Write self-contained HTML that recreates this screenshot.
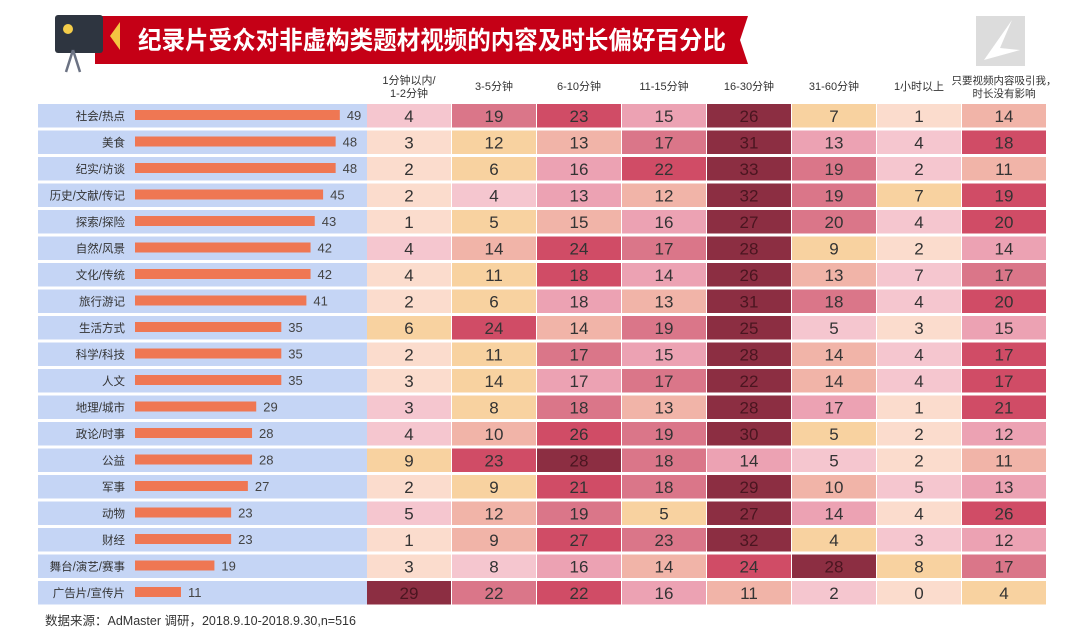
<!DOCTYPE html>
<html><head><meta charset="utf-8">
<style>
body{margin:0;width:1080px;height:639px;background:#fff;overflow:hidden;font-family:"Liberation Sans","Noto Sans CJK SC",sans-serif;}
svg text{font-family:"Liberation Sans","Noto Sans CJK SC",sans-serif;}
</style></head><body>
<svg id="c" width="1080" height="639">
  <g>
    <path d="M95 16 H748 L740 40 L748 64 H95 Z" fill="#c50016"/>
    <rect x="55" y="15" width="48" height="38" rx="3" fill="#2e3540"/>
    <circle cx="68" cy="29" r="5" fill="#f4cd4a"/>
    <path d="M73 50 L66 72 M73 50 L80 72" stroke="#6b7283" stroke-width="2.5" fill="none"/>
    <path d="M120 22 L110 36 L120 50 Z" fill="#f4c542"/>
    <text x="138" y="49" font-size="25" font-weight="bold" fill="#fff" textLength="588" lengthAdjust="spacingAndGlyphs">纪录片受众对非虚构类题材视频的内容及时长偏好百分比</text>
  </g>
  <g>
    <rect x="976" y="16" width="49" height="50" fill="#dcdcdc"/>
    <path d="M1012 20 L984 60 L1020 50 L1000 48 Z" fill="#fff"/>
  </g>
  <g id="hdr"></g>
  <g id="rows"></g>
  <text x="45" y="625" font-size="12.5" fill="#333">数据来源：AdMaster 调研，2018.9.10-2018.9.30,n=516</text>
</svg>
<script>
const categories=["社会/热点","美食","纪实/访谈","历史/文献/传记","探索/探险","自然/风景","文化/传统","旅行游记","生活方式","科学/科技","人文","地理/城市","政论/时事","公益","军事","动物","财经","舞台/演艺/赛事","广告片/宣传片"];
const totals=[49,48,48,45,43,42,42,41,35,35,35,29,28,28,27,23,23,19,11];
const columns=["1分钟以内/|1-2分钟","3-5分钟","6-10分钟","11-15分钟","16-30分钟","31-60分钟","1小时以上","只要视频内容吸引我，|时长没有影响"];
const cells=[
[4,19,23,15,26,7,1,14],
[3,12,13,17,31,13,4,18],
[2,6,16,22,33,19,2,11],
[2,4,13,12,32,19,7,19],
[1,5,15,16,27,20,4,20],
[4,14,24,17,28,9,2,14],
[4,11,18,14,26,13,7,17],
[2,6,18,13,31,18,4,20],
[6,24,14,19,25,5,3,15],
[2,11,17,15,28,14,4,17],
[3,14,17,17,22,14,4,17],
[3,8,18,13,28,17,1,21],
[4,10,26,19,30,5,2,12],
[9,23,28,18,14,5,2,11],
[2,9,21,18,29,10,5,13],
[5,12,19,5,27,14,4,26],
[1,9,27,23,32,4,3,12],
[3,8,16,14,24,28,8,17],
[29,22,22,16,11,2,0,4]];
const palette=["#fbdccd","#f5c6cf","#f8d2a0","#f1b4a8","#eca2b3","#da7689","#d04c66","#8c2e42"];
const NS="http://www.w3.org/2000/svg";
const rowY=i=>104+i*26.5, rowH=23.5;
const colX=j=>367+j*85, colW=84;
const barX=v=>135+v*4.18;
function mk(t,a,p){const e=document.createElementNS(NS,t);for(const k in a)e.setAttribute(k,a[k]);p.appendChild(e);return e;}
const hdr=document.getElementById('hdr'),rows=document.getElementById('rows');
columns.forEach((c,j)=>{
  const lines=c.split('|');
  lines.forEach((l,k)=>{
    const t=mk('text',{x:colX(j)+colW/2,y:(lines.length>1?84:90)+k*13,'font-size':(j==7?10.5:11),'text-anchor':'middle',fill:'#333'},hdr);
    
    
    t.textContent=l;
  });
});
categories.forEach((cat,i)=>{
  const y=rowY(i);
  const bg=mk('rect',{x:38,y:y,width:329,height:rowH,fill:'#c5d5f5'},rows);
  
  
  const lt=mk('text',{x:125,y:y+16,'font-size':11.5,'text-anchor':'end',fill:'#333'},rows);
  
  
  lt.textContent=cat;
  const b=mk('rect',{x:barX(0),y:y+6,width:barX(totals[i])-barX(0),height:10,fill:'#ef7753'},rows);
  
  
  const bv=mk('text',{x:barX(totals[i])+7,y:y+16,'font-size':13,fill:'#444'},rows);
  
  
  bv.textContent=totals[i];
  const sorted=cells[i].map((v,j)=>[v,j]).sort((a,b)=>a[0]-b[0]||a[1]-b[1]);
  const rank=[];sorted.forEach((s,r)=>rank[s[1]]=r);
  cells[i].forEach((v,j)=>{
    const r=mk('rect',{x:colX(j),y:y,width:colW,height:rowH,fill:palette[rank[j]]},rows);
    
    
    const t=mk('text',{x:colX(j)+colW/2,y:y+18,'font-size':17,'text-anchor':'middle',fill:rank[j]==7?'#4a1520':'#333'},rows);
    
    
    t.textContent=v;
  });
});
</script>
</body></html>
